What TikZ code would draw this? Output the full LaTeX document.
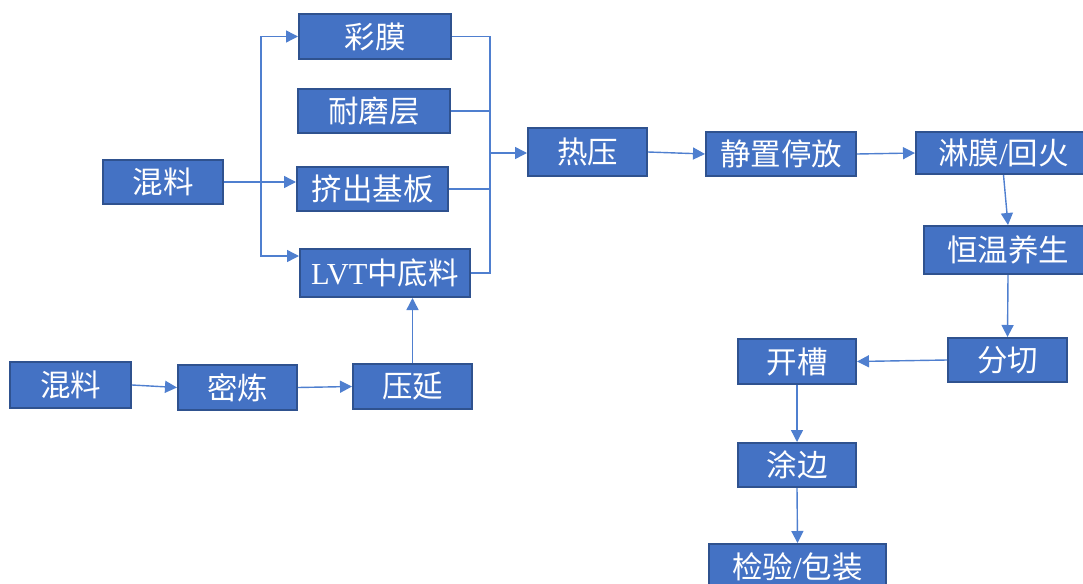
\documentclass[tikz,border=0pt]{standalone}
\usepackage{fontspec}
\setmainfont{Liberation Serif}
\newfontfamily\cjkfont{Noto Sans CJK SC}
\usepackage{xcolor}
\usetikzlibrary{arrows.meta}

\definecolor{boxblue}{HTML}{4472C4}
\definecolor{boxedge}{HTML}{2F528F}
\definecolor{lineblue}{HTML}{4F7FCF}

\tikzset{
  proc/.style={draw=boxedge, line width=2pt, fill=boxblue, text=white,
    inner sep=2pt, font=\cjkfont\fontsize{30.5}{34}\selectfont},
  flow/.style={draw=lineblue, line width=1.4pt,
    -{Triangle[length=12pt,width=12pt]}},
  link/.style={draw=lineblue, line width=1.4pt}
}

\begin{document}
\begin{tikzpicture}[x=1pt,y=-1pt]
\useasboundingbox (0,0) rectangle (1083,583);

% left branch
\node[proc, minimum width=120pt, minimum height=44pt] (mixa) at (163,182) {混料};
\node[proc, minimum width=152pt, minimum height=45pt] (caimo) at (375,36.5) {彩膜};
\node[proc, minimum width=152pt, minimum height=44pt] (naimo) at (374,111) {耐磨层};
\node[proc, minimum width=151pt, minimum height=44pt] (jichu) at (372.5,189) {挤出基板};
\node[proc, minimum width=170pt, minimum height=48pt] (lvt) at (385,273) {\textrm{LVT}中底料};

% bottom row
\node[proc, minimum width=121pt, minimum height=46pt] (mixb) at (70.5,385) {混料};
\node[proc, minimum width=119pt, minimum height=45pt] (milian) at (237.5,387.5) {密炼};
\node[proc, minimum width=119pt, minimum height=45pt] (yayan) at (412.5,386.5) {压延};

% main line
\node[proc, minimum width=119pt, minimum height=48pt] (reya) at (587.5,152) {热压};
\node[proc, minimum width=150pt, minimum height=44pt] (jingzhi) at (781,154) {静置停放};
\node[proc, minimum width=175pt, minimum height=42pt] (linmo) at (1003.5,153) {淋膜\textrm{/}回火};
\node[proc, minimum width=168pt, minimum height=48pt] (hengwen) at (1008,250) {恒温养生};
\node[proc, minimum width=119pt, minimum height=44pt] (fenqie) at (1007.5,360) {分切};
\node[proc, minimum width=118pt, minimum height=45pt] (kaicao) at (797,361.5) {开槽};
\node[proc, minimum width=118pt, minimum height=44pt] (tubian) at (797,465) {涂边};
\node[proc, minimum width=177pt, minimum height=46pt] (jianyan) at (797.5,567) {检验\textrm{/}包装};

\coordinate (fork) at (261,182);
\coordinate (merge) at (490,153);

\draw[flow] (mixa.east) -- (fork) |- (caimo.west);
\draw[flow] (mixa.east) -- (jichu.west |- mixa.east);
\draw[flow] (fork) |- ([yshift=17pt]lvt.west);

\draw[link] (caimo.east) -| (merge);
\draw[link] (naimo.east) -| (merge);
\draw[link] (jichu.east) -| (merge);
\draw[link] (lvt.east) -| (merge);
\draw[flow] (merge) -- (reya.west |- merge);

\draw[flow] (mixb.east) -- (milian.west);
\draw[flow] (milian.east) -- (yayan.west);
\draw[flow] (yayan.north) -- (yayan.north |- lvt.south);

\draw[flow] (reya.east) -- (jingzhi.west);
\draw[flow] (jingzhi.east) -- (linmo.west);
\draw[flow] (linmo.south) -- (hengwen.north);
\draw[flow] (hengwen.south) -- (fenqie.north);
\draw[flow] (fenqie.west) -- (kaicao.east);
\draw[flow] (kaicao.south) -- (tubian.north);
\draw[flow] (tubian.south) -- (jianyan.north);

\end{tikzpicture}
\end{document}
